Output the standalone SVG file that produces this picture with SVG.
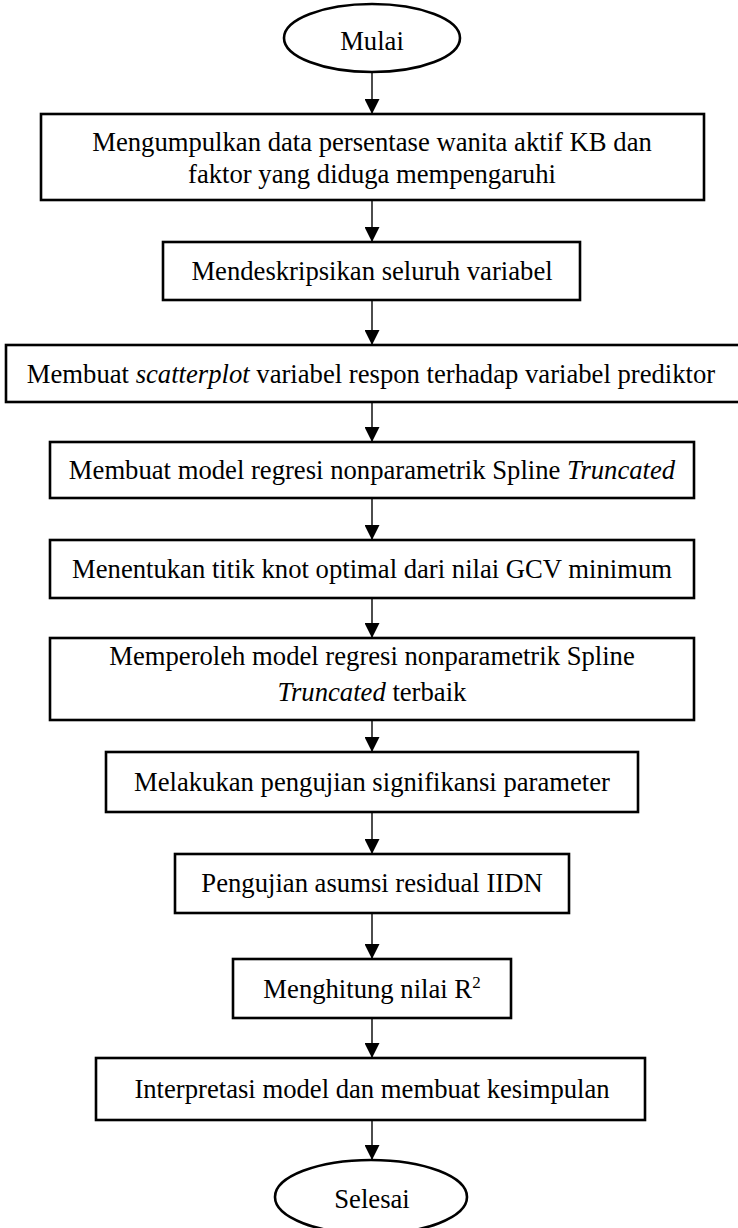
<svg xmlns="http://www.w3.org/2000/svg" width="738" height="1228" viewBox="0 0 738 1228">
<style>
.b{fill:#fff;stroke:#000;stroke-width:2.6}
.c{stroke:#000;stroke-width:1.4;fill:none}
text{font-family:"Liberation Serif","Times New Roman",serif;font-size:26.67px;fill:#000;text-anchor:middle}
.i{font-style:italic}
</style>
<defs>
<marker id="ah" markerUnits="userSpaceOnUse" markerWidth="15" markerHeight="15" refX="15" refY="7.5" orient="auto">
<path d="M0,0 L15,7.5 L0,15 z" fill="#000"/>
</marker>
</defs>
<rect width="738" height="1228" fill="#fff"/>
<g id="connectors">
<line class="c" x1="372" y1="72" x2="372" y2="114" marker-end="url(#ah)"/>
<line class="c" x1="372" y1="200" x2="372" y2="242" marker-end="url(#ah)"/>
<line class="c" x1="372" y1="300" x2="372" y2="345" marker-end="url(#ah)"/>
<line class="c" x1="372" y1="402" x2="372" y2="442" marker-end="url(#ah)"/>
<line class="c" x1="372" y1="498" x2="372" y2="540" marker-end="url(#ah)"/>
<line class="c" x1="372" y1="598" x2="372" y2="638" marker-end="url(#ah)"/>
<line class="c" x1="372" y1="720" x2="372" y2="752" marker-end="url(#ah)"/>
<line class="c" x1="372" y1="812" x2="372" y2="854" marker-end="url(#ah)"/>
<line class="c" x1="372" y1="913" x2="372" y2="959" marker-end="url(#ah)"/>
<line class="c" x1="372" y1="1018" x2="372" y2="1058" marker-end="url(#ah)"/>
<line class="c" x1="372" y1="1120" x2="372" y2="1160" marker-end="url(#ah)"/>
</g>
<g id="mulai">
<ellipse class="b" cx="372" cy="38" rx="88" ry="34"/>
<text x="372" y="50">Mulai</text>
</g>
<g id="n1">
<rect class="b" x="41" y="114" width="663" height="86"/>
<text x="372" y="151">Mengumpulkan data persentase wanita aktif KB dan</text>
<text x="372" y="183">faktor yang diduga mempengaruhi</text>
</g>
<g id="n2">
<rect class="b" x="163" y="242" width="417" height="58"/>
<text x="372" y="280">Mendeskripsikan seluruh variabel</text>
</g>
<g id="n3">
<rect class="b" x="6" y="345" width="736" height="57"/>
<text x="371" y="383">Membuat <tspan class="i">scatterplot</tspan> variabel respon terhadap variabel prediktor</text>
</g>
<g id="n4">
<rect class="b" x="50" y="442" width="644" height="56"/>
<text x="372" y="479">Membuat model regresi nonparametrik Spline <tspan class="i">Truncated</tspan></text>
</g>
<g id="n5">
<rect class="b" x="50" y="540" width="644" height="58"/>
<text x="372" y="578">Menentukan titik knot optimal dari nilai GCV minimum</text>
</g>
<g id="n6">
<rect class="b" x="50" y="638" width="644" height="82"/>
<text x="372" y="665">Memperoleh model regresi nonparametrik Spline</text>
<text x="372" y="701"><tspan class="i">Truncated</tspan> terbaik</text>
</g>
<g id="n7">
<rect class="b" x="106" y="752" width="532" height="60"/>
<text x="372" y="791">Melakukan pengujian signifikansi parameter</text>
</g>
<g id="n8">
<rect class="b" x="175" y="854" width="394" height="59"/>
<text x="372" y="892">Pengujian asumsi residual IIDN</text>
</g>
<g id="n9">
<rect class="b" x="233" y="959" width="278" height="59"/>
<text x="372" y="998">Menghitung nilai R<tspan font-size="17" dy="-10">2</tspan></text>
</g>
<g id="n10">
<rect class="b" x="96" y="1058" width="549" height="62"/>
<text x="372" y="1098">Interpretasi model dan membuat kesimpulan</text>
</g>
<g id="selesai">
<ellipse class="b" cx="371" cy="1197" rx="96" ry="37"/>
<text x="372" y="1208">Selesai</text>
</g>
</svg>
